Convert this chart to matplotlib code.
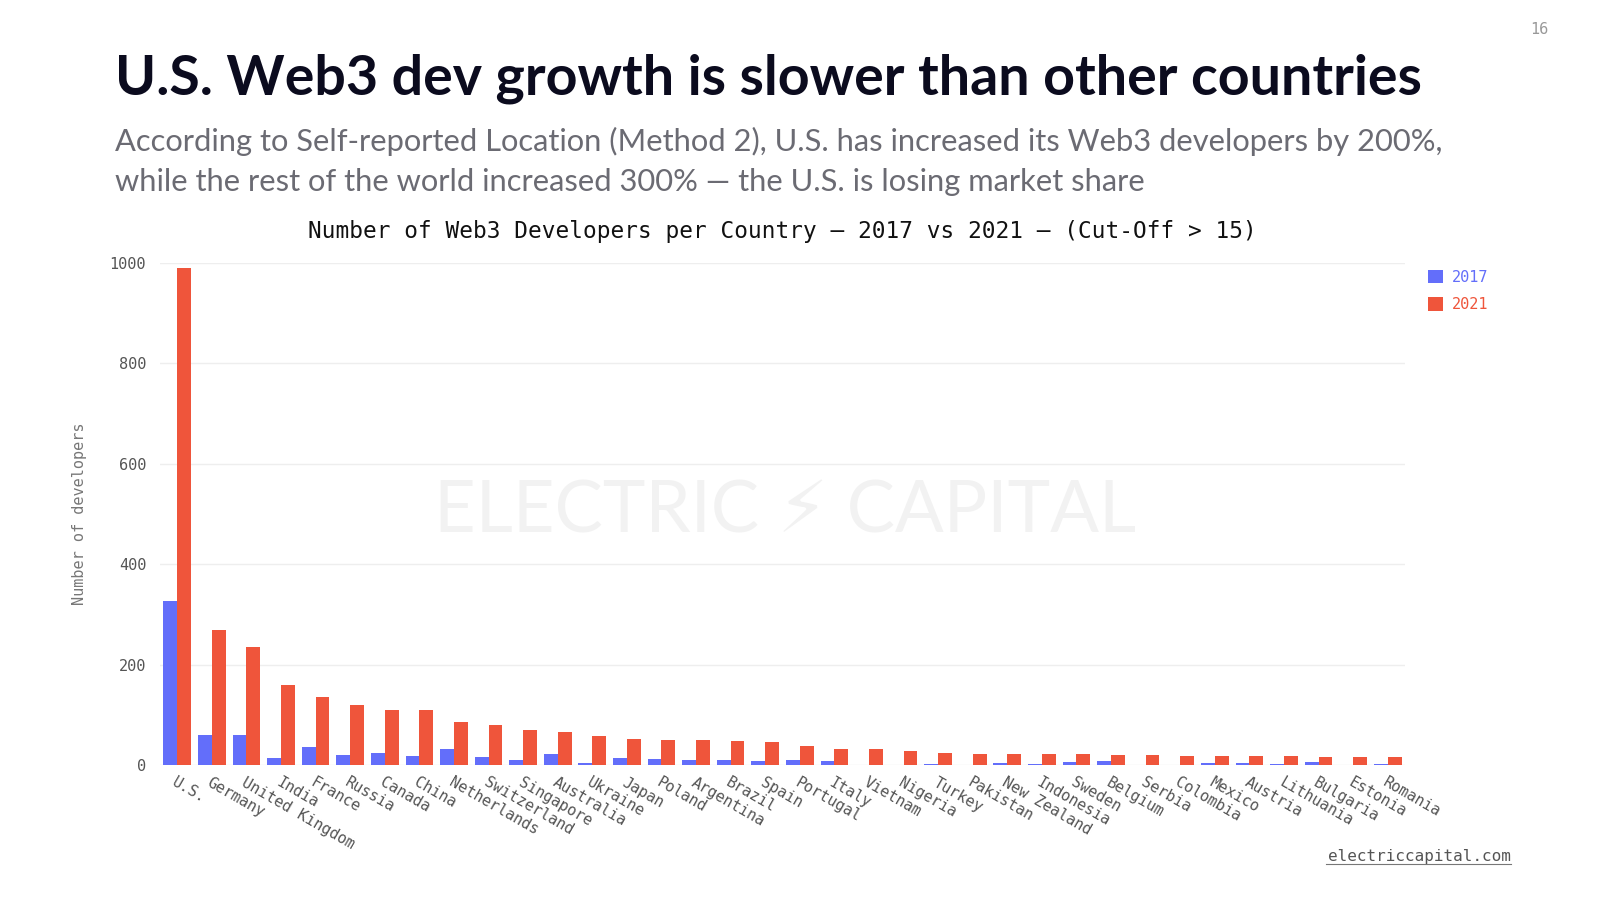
import matplotlib.pyplot as plt
import numpy as np

# data
countries = ["U.S.", "Germany", "United Kingdom", "India", "France", "Russia",
             "Canada", "China", "Netherlands", "Switzerland", "Singapore",
             "Australia", "Ukraine", "Japan", "Poland", "Argentina", "Brazil",
             "Spain", "Portugal", "Italy", "Vietnam", "Nigeria", "Turkey",
             "Pakistan", "New Zealand", "Indonesia", "Sweden", "Belgium",
             "Serbia", "Colombia", "Mexico", "Austria", "Lithuania",
             "Bulgaria", "Estonia", "Romania"]
devs_2017 = [327, 60, 59, 14, 35, 19, 23, 18, 31, 15, 10, 21, 4, 14, 12, 10,
             9, 7, 10, 7, 0, 0, 1, 0, 3, 2, 6, 7, 0, 0, 3, 4, 2, 5, 0, 2]
devs_2021 = [991, 269, 235, 159, 135, 119, 110, 110, 85, 80, 70, 66, 58, 52,
             50, 49, 47, 46, 38, 32, 31, 28, 24, 22, 21, 21, 21, 20, 19, 17,
             17, 17, 17, 16, 16, 16]
yticks = [0, 200, 400, 600, 800, 1000]

BLUE = "#636efa"
RED = "#ef553b"
MONO = ["DejaVu Sans Mono"]

fig = plt.figure(figsize=(16, 8.99), dpi=100)
fig.patch.set_facecolor("white")

# slide header
fig.text(115 / 1600, 1 - 79 / 899, "U.S. Web3 dev growth is slower than other countries",
         fontsize=40, fontweight="bold", family="Lato", color="#0b0b1e",
         ha="left", va="center")
fig.text(115 / 1600, 1 - 141 / 899,
         "According to Self-reported Location (Method 2), U.S. has increased its Web3 developers by 200%,",
         fontsize=22.2, family="Lato", color="#6b6b73", ha="left", va="center")
fig.text(115 / 1600, 1 - 182 / 899,
         "while the rest of the world increased 300% \u2014 the U.S. is losing market share",
         fontsize=22.2, family="Lato", color="#6b6b73", ha="left", va="center")
fig.text(1548 / 1600, 1 - 30 / 899, "16", fontsize=11, family=MONO,
         color="#999999", ha="right", va="center")
fig.text(1511 / 1600, 1 - 857 / 899, "electriccapital.com", fontsize=11.5,
         family=MONO, color="#555555", ha="right", va="center")
fig.add_artist(plt.Line2D([1326 / 1600, 1511 / 1600], [1 - 864 / 899, 1 - 864 / 899],
                          color="#777777", lw=0.8))

# watermark
fig.text(785 / 1600, 1 - 512 / 899, "ELECTRIC \u26a1 CAPITAL", fontsize=52,
         family=["Lato", "DejaVu Sans"], color="#f2f2f2", ha="center", va="center",
         zorder=0)

ax = fig.add_axes([160 / 1600, 1 - 765 / 899, 1245 / 1600, (765 - 263) / 899])
ax.set_facecolor("none")

x = np.arange(len(countries))
w = 0.4
ax.bar(x - w / 2, devs_2017, width=w, color=BLUE, label="2017", zorder=3)
ax.bar(x + w / 2, devs_2021, width=w, color=RED, label="2021", zorder=3)

ax.set_xlim(-0.5, len(countries) - 0.5)
ax.set_ylim(0, 1000)
ax.set_yticks(yticks)
ax.set_yticklabels([str(v) for v in yticks], family=MONO, fontsize=11, color="#555555")
ax.yaxis.grid(True, color="#eeeeee", lw=1, zorder=0)
ax.tick_params(axis="y", length=0, pad=10)
ax.tick_params(axis="x", length=0, pad=7)
ax.set_xticks(x)
ax.set_xticklabels(countries, rotation=-30, ha="left", va="top",
                   rotation_mode="anchor", family=MONO, fontsize=11, color="#555555")
for s in ax.spines.values():
    s.set_visible(False)

ax.set_ylabel("Number of developers", family=MONO, fontsize=11, color="#777777",
              labelpad=16)
ax.set_title("Number of Web3 Developers per Country \u2014 2017 vs 2021 \u2014 (Cut-Off > 15)",
             family=MONO, fontsize=16.4, color="#111111", pad=18)

leg = fig.legend(loc="upper left", bbox_to_anchor=(1414 / 1600, 1 - 256 / 899),
                 frameon=False, prop={"family": MONO, "size": 11},
                 handlelength=1.0, handleheight=1.0, handletextpad=0.6,
                 labelspacing=0.8)
for t, c in zip(leg.get_texts(), [BLUE, RED]):
    t.set_color(c)

fig.savefig("out.png", dpi=100, facecolor="white")
